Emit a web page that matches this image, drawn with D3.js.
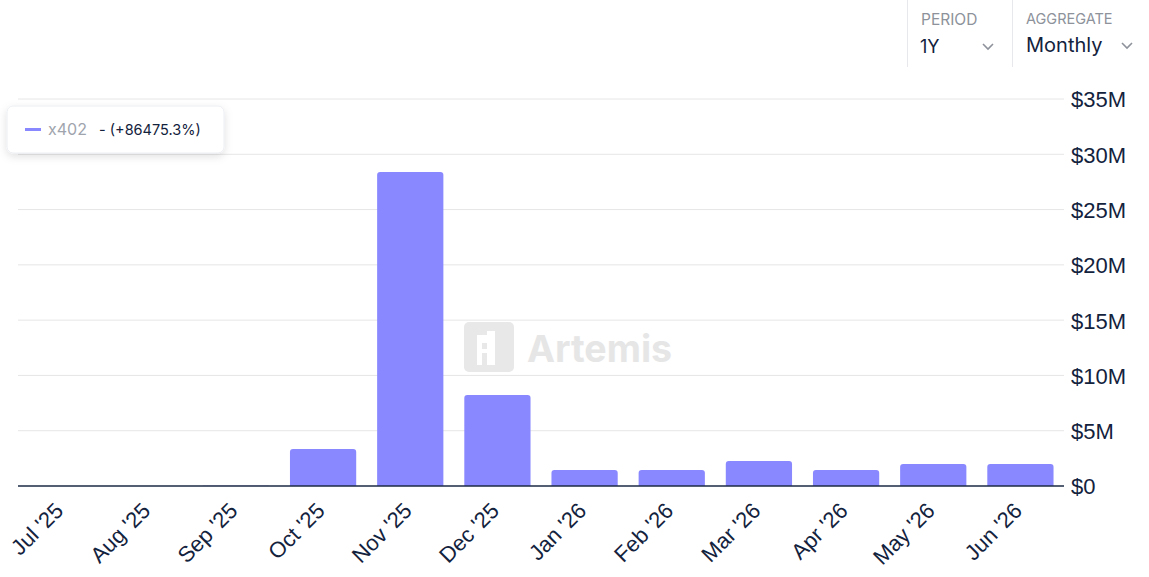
<!DOCTYPE html>
<html><head><meta charset="utf-8">
<script src="https://cdn.jsdelivr.net/npm/d3@7"></script>
<style>
body{margin:0;background:#fff;font-family:Inter,"Noto Sans",sans-serif;}
svg{display:block;}
</style></head><body>
<svg id="c" width="1149" height="577"></svg>
<script>
const categories = ["Jul '25","Aug '25","Sep '25","Oct '25","Nov '25","Dec '25","Jan '26","Feb '26","Mar '26","Apr '26","May '26","Jun '26"];
const values = [3300, 9000, 30000, 3350000, 28400000, 8230000, 1450000, 1450000, 2260000, 1450000, 1990000, 1990000];
const yTicks = [0, 5e6, 10e6, 15e6, 20e6, 25e6, 30e6, 35e6];
const yTickLabels = ["$0","$5M","$10M","$15M","$20M","$25M","$30M","$35M"];
const seriesName = "x402";
const seriesChange = "- (+86475.3%)";

(function(){
const svg = d3.select("#c");
const pLeft = 18, pRight = 1064, pTop = 99, pBottom = 486;
const x = d3.scaleBand().domain(categories).range([pLeft, pRight]).paddingInner(0.24).paddingOuter(0.12);
const y = d3.scaleLinear().domain([0, 35e6]).range([pBottom, pTop]);
const axisFont = "Liberation Sans, Arial, Helvetica, sans-serif";

// watermark
const wm = svg.append("g");
wm.append("rect").attr("x", 464).attr("y", 322).attr("width", 50).attr("height", 50).attr("rx", 5).attr("fill", "#e8e8e8");
wm.append("path").attr("d", "M477,335 h10 v-4 h8 v34 h-8 v-12 h-5 v12 h-5 z M482,343 h5 v6 h-5 z").attr("fill", "#fff").attr("fill-rule","evenodd");
wm.append("text").attr("x", 527).attr("y", 362).attr("font-size", 37.5).attr("font-weight", 700)
  .attr("fill", "#e6e6e6").attr("font-family", "Inter, sans-serif").text("Artemis");

// gridlines
svg.append("g").selectAll("line").data(yTicks.slice(1)).join("line")
  .attr("x1", pLeft).attr("x2", pRight).attr("y1", d => y(d)).attr("y2", d => y(d))
  .attr("stroke", "#e6e6e6").attr("stroke-width", 1);

// bars with rounded top
const r = 3;
svg.append("g").selectAll("path").data(values).join("path")
  .attr("fill", "#8a88ff")
  .attr("d", (d, i) => {
    const x0 = x(categories[i]), w = x.bandwidth(), y0 = y(d), h = pBottom - y0;
    const rr = Math.min(r, h);
    return `M${x0},${pBottom} V${y0 + rr} Q${x0},${y0} ${x0 + rr},${y0} H${x0 + w - rr} Q${x0 + w},${y0} ${x0 + w},${y0 + rr} V${pBottom} Z`;
  });

// x axis line
svg.append("line").attr("x1", pLeft).attr("x2", pRight).attr("y1", pBottom).attr("y2", pBottom)
  .attr("stroke", "#1c2a44").attr("stroke-width", 1.5);

// y axis labels
const yAxis = d3.axisRight(y).tickValues(yTicks).tickFormat((d, i) => yTickLabels[i]).tickSize(0).tickPadding(0);
const ya = svg.append("g").attr("transform", `translate(1071,0)`).call(yAxis);
ya.select(".domain").remove();
ya.attr("font-family", axisFont).attr("font-size", 22);
ya.selectAll("text").attr("fill", "#13223d").attr("dy", "0.36em");

// x axis labels
const xAxis = d3.axisBottom(x).tickSize(0).tickPadding(0);
const xa = svg.append("g").attr("transform", `translate(0,${pBottom})`).call(xAxis);
xa.select(".domain").remove();
xa.attr("font-family", axisFont).attr("font-size", 22);
xa.selectAll("text").attr("fill", "#13223d")
  .attr("text-anchor", "end").attr("dy", 0)
  .attr("transform", "translate(3,26) rotate(-45)");

// legend box
const defs = svg.append("defs");
const f = defs.append("filter").attr("id", "sh").attr("x", "-20%").attr("y", "-40%").attr("width", "140%").attr("height", "180%");
f.append("feDropShadow").attr("dx", 0).attr("dy", 3).attr("stdDeviation", 4).attr("flood-color", "#000").attr("flood-opacity", 0.12);
svg.append("rect").attr("x", 7).attr("y", 106).attr("width", 217).attr("height", 47).attr("rx", 6)
  .attr("fill", "#fff").attr("stroke", "#eceef2").attr("filter", "url(#sh)");
svg.append("line").attr("x1", 25).attr("x2", 41).attr("y1", 129.5).attr("y2", 129.5).attr("stroke", "#8a88ff").attr("stroke-width", 3);
svg.append("text").attr("x", 48).attr("y", 135).attr("font-size", 16).attr("fill", "#a0a4ad").text(seriesName);
svg.append("text").attr("x", 99).attr("y", 135).attr("font-size", 14.5).attr("fill", "#13223d").text(seriesChange);

// top right controls
svg.append("line").attr("x1", 907.5).attr("x2", 907.5).attr("y1", 0).attr("y2", 67).attr("stroke", "#e6e8ec");
svg.append("line").attr("x1", 1012.5).attr("x2", 1012.5).attr("y1", 0).attr("y2", 67).attr("stroke", "#e6e8ec");
svg.append("text").attr("x", 921).attr("y", 25).attr("font-size", 15.5).attr("fill", "#8d929b").text("PERIOD");
svg.append("text").attr("x", 920).attr("y", 53).attr("font-size", 18).attr("fill", "#13223d").text("1Y");
svg.append("text").attr("x", 1026).attr("y", 24).attr("font-size", 14.5).attr("fill", "#8d929b").text("AGGREGATE");
svg.append("text").attr("x", 1026).attr("y", 52).attr("font-size", 20).attr("fill", "#13223d").text("Monthly");
const chev = (cx, cy) => svg.append("path").attr("d", `M${cx-5},${cy-3} L${cx},${cy+2} L${cx+5},${cy-3}`)
  .attr("fill", "none").attr("stroke", "#8d929b").attr("stroke-width", 1.6);
chev(988, 47); chev(1127, 46);
})();
</script>
</body></html>
